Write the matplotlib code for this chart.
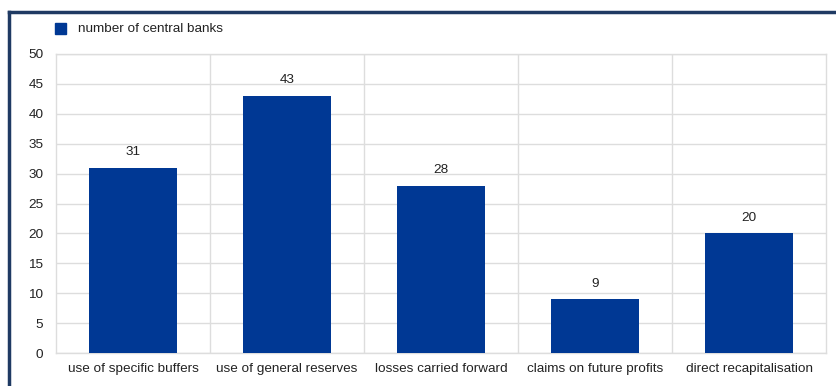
import matplotlib.pyplot as plt
from matplotlib.lines import Line2D
from matplotlib.patches import Rectangle

categories = ["use of specific buffers", "use of general reserves",
              "losses carried forward", "claims on future profits",
              "direct recapitalisation"]
values = [31, 43, 28, 9, 20]

plt.rcParams['font.family'] = ['Liberation Sans', 'DejaVu Sans']

W, H = 837, 386
fig = plt.figure(figsize=(W / 100, H / 100), dpi=100)
ax = fig.add_axes([56 / W, 1 - 353 / H, (826 - 56) / W, (353 - 54) / H])

fs = 9.7
bar_color = '#003894'
x = range(len(categories))
ax.bar(x, values, width=0.57, color=bar_color, zorder=3)
for xi, v in zip(x, values):
    ax.text(xi, v + 1.6, str(v), ha='center', va='bottom', fontsize=fs, color='#222222')

ax.set_xlim(-0.5, len(categories) - 0.5)
ax.set_ylim(0, 50)
ax.set_yticks(range(0, 51, 5))
ax.set_xticks(list(x))
ax.set_xticklabels(categories, fontsize=fs, color='#222222')
for lab in ax.get_xticklabels():
    lab.set_va('baseline')
ax.tick_params(axis='y', labelsize=fs, colors='#222222', length=0, pad=9)
ax.tick_params(axis='x', length=0, pad=14)

# grid: horizontal every 5, vertical separators between categories
ax.yaxis.grid(True, color='#dddddd', linewidth=1, zorder=0)
for b in [i + 0.5 for i in range(len(categories) - 1)]:
    ax.axvline(b, color='#dddddd', linewidth=1, zorder=0)
for s in ax.spines.values():
    s.set_color('#dddddd')
    s.set_linewidth(1)

# legend
fig.add_artist(Rectangle((55 / W, 1 - 34 / H), 11 / W, 11 / H,
                         transform=fig.transFigure, color=bar_color))
fig.text(78 / W, 1 - 29 / H, "number of central banks", fontsize=fs,
         va='center', ha='left', color='#222222')

# frame lines (top and left)
border = '#1f3a63'
fig.add_artist(Line2D([9 / W, 1], [1 - 12 / H, 1 - 12 / H], color=border, linewidth=2.5,
                      transform=fig.transFigure))
fig.add_artist(Line2D([9 / W, 9 / W], [0, 1 - 12 / H], color=border, linewidth=2.5,
                      transform=fig.transFigure))

fig.savefig('out.png', dpi=100)
